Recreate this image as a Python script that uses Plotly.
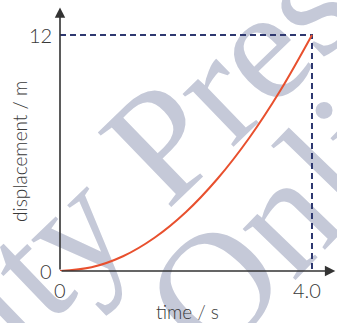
import plotly.graph_objects as go

# Displacement-time data for uniformly accelerating motion
time_s = [0.0, 0.5, 1.0, 1.5, 2.0, 2.5, 3.0, 3.5, 4.0]
displacement_m = [0.0, 0.19, 0.75, 1.69, 3.0, 4.69, 6.75, 9.19, 12.0]

# Guide lines to the final point
guide_t = [0.0, 4.0, 4.0]
guide_s = [12.0, 12.0, 0.0]

x_ticks = [0, 4]
x_tick_text = ["0", "4.0"]
y_ticks = [0, 12]
y_tick_text = ["0", "12"]

W, H = 337, 323
ML, MB = 60, 52
PW, PH = W - ML, H - MB
X_MAX = 4.397
Y_MAX = 13.78

TEXT = "#383838"
FONT = "Lato"
LABEL_FONT = dict(family=FONT, size=19, color=TEXT, weight=300)


def px(xp, yp):
    """Pixel position -> paper coordinates."""
    return (xp - ML) / PW, (PH - yp) / PH


fig = go.Figure()

fig.add_trace(go.Scatter(
    x=guide_t, y=guide_s, mode="lines",
    line=dict(color="#2e3870", width=2, dash="6px,4px"),
    hoverinfo="skip", showlegend=False,
))
fig.add_trace(go.Scatter(
    x=time_s, y=displacement_m, mode="lines",
    line=dict(color="#e8502e", width=2, shape="spline"),
    showlegend=False,
))

# Watermark text behind the data
wm_color = "#c5c9d8"
shapes = []
for text, cx, cy, ang in [("University Press", -18, 291, -44), ("Online", 313, 160, -46)]:
    fx, fy = px(cx, cy)
    shapes.append(dict(
        type="rect", xref="paper", yref="paper",
        x0=fx - 0.01, x1=fx + 0.01, y0=fy - 0.01, y1=fy + 0.01,
        line=dict(width=0), fillcolor="rgba(0,0,0,0)", layer="below",
        label=dict(text=text, textangle=ang, textposition="middle center",
                   font=dict(family="Liberation Serif", size=160, color=wm_color)),
    ))

annotations = [
    # Axes with arrowheads
    dict(x=0, y=13.4, ax=0, ay=0, xref="x", yref="y", axref="x", ayref="y",
         text="", showarrow=True, arrowhead=2, arrowsize=1.3, arrowwidth=1.6,
         arrowcolor="#333333"),
    dict(x=4.37, y=0, ax=0, ay=0, xref="x", yref="y", axref="x", ayref="y",
         text="", showarrow=True, arrowhead=2, arrowsize=1.3, arrowwidth=1.6,
         arrowcolor="#333333"),
]

# Tick labels
for v, t in zip(x_ticks, x_tick_text):
    annotations.append(dict(x=v, y=0, xref="x", yref="y", text=t, showarrow=False,
                            xanchor="center", yanchor="top", yshift=-5,
                            xshift=-5 if v else 0, font=dict(LABEL_FONT, size=20)))
for v, t in zip(y_ticks, y_tick_text):
    annotations.append(dict(x=0, y=v, xref="x", yref="y", text=t, showarrow=False,
                            xanchor="right", yanchor="middle", xshift=-6,
                            font=dict(LABEL_FONT, size=20)))

# Axis titles
tx, ty = px(187, 311)
annotations.append(dict(x=tx, y=ty, xref="paper", yref="paper", text="time / s",
                        showarrow=False, xanchor="center", yanchor="middle",
                        font=LABEL_FONT))
dx, dy = px(19, 152)
annotations.append(dict(x=dx, y=dy, xref="paper", yref="paper", text="displacement / m",
                        showarrow=False, xanchor="center", yanchor="middle",
                        textangle=-90, font=LABEL_FONT))

fig.update_layout(
    width=W, height=H,
    margin=dict(l=ML, r=0, t=0, b=MB),
    paper_bgcolor="white", plot_bgcolor="rgba(0,0,0,0)",
    shapes=shapes, annotations=annotations,
    font=dict(family=FONT, color=TEXT, size=19),
)
fig.update_xaxes(range=[0, X_MAX], showgrid=False, zeroline=False, showline=False,
                 showticklabels=False, ticks="")
fig.update_yaxes(range=[0, Y_MAX], showgrid=False, zeroline=False, showline=False,
                 showticklabels=False, ticks="")

fig.write_html("out.html")
